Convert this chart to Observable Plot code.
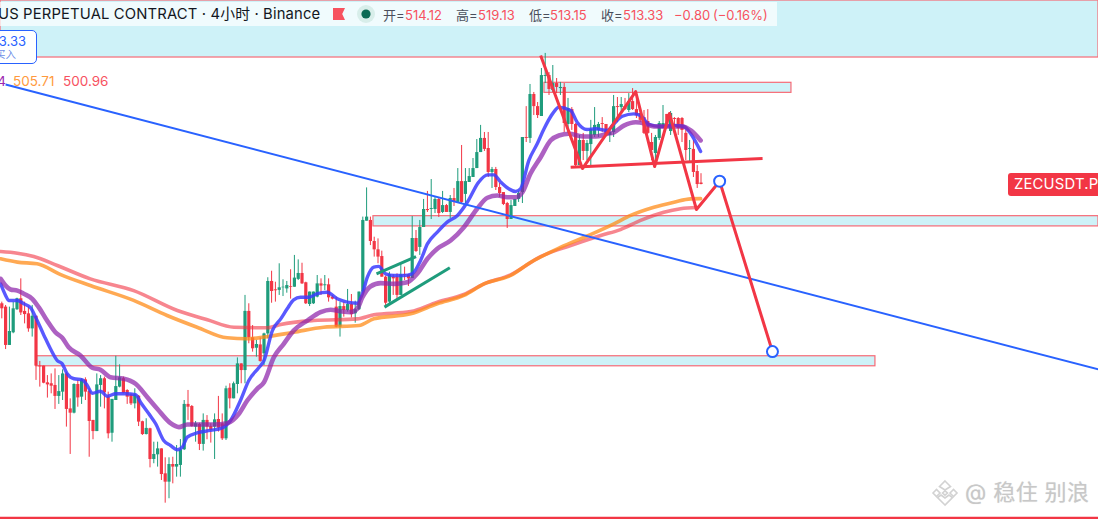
<!DOCTYPE html>
<html lang="zh">
<head>
<meta charset="utf-8">
<title>ZECUSDT.P 4小时</title>
<script src="https://cdn.jsdelivr.net/npm/d3@7"></script>
<script src="https://cdn.jsdelivr.net/npm/@observablehq/plot@0.6"></script>
<style>
html,body{margin:0;padding:0;background:#fff;overflow:hidden;width:1098px;height:519px}
#wrap{position:relative;width:1098px;height:519px;overflow:hidden;font-family:Inter,"Noto Sans CJK SC",sans-serif}
#wrap svg.plot{display:block;position:absolute;left:0;top:0}
.ov{position:absolute;white-space:nowrap}
#bar{left:0;top:2px;width:777px;height:24px;background:rgba(255,255,255,.7)}
#sym{left:-2px;top:3px;font-size:14.8px;line-height:22px;color:#131722;letter-spacing:.15px}
.o{font-size:13px;line-height:20px;top:5px}
.lab{color:#4a4f5c}.red{color:#f7525f}
#order{left:-12px;top:30px;width:49px;height:34px;background:#fff;border:1px solid #2962ff;border-radius:5px;box-sizing:border-box}
#o1{right:10px;top:2px;font-size:13px;line-height:16px;color:#2962ff}
#o2{right:20px;top:18px;font-size:10.5px;line-height:12px;color:#6f8fe8}
.ma{font-size:13.5px;line-height:16px;top:73px}
#tag{left:1008px;top:173px;width:110px;height:23px;background:#f23645;border-radius:3px;color:#fff;font-size:14.8px;line-height:23px;padding-left:6px;box-sizing:border-box;letter-spacing:.2px}
#wm{left:965px;top:477px;font-size:22px;line-height:30px;color:#c8c8c8;text-shadow:0 0 1px #ddd;letter-spacing:.4px}
</style>
</head>
<body>
<div id="wrap"></div>
<script>
const opens = [
449.2,447.4,426.8,433.6,446.0,451.9,445.1,443.8,435.7,442.5,
415.7,415.7,406.7,406.2,405.3,399.4,401.7,411.5,392.7,390.4,
405.8,399.0,408.3,402.2,386.5,380.5,405.3,408.9,399.0,379.6,
397.2,404.4,408.9,402.6,400.3,395.4,399.5,385.8,378.9,382.0,
365.5,368.0,371.2,357.8,353.3,362.8,361.4,362.3,370.7,395.1,
394.0,382.9,384.3,373.6,386.5,383.2,382.9,387.0,384.7,376.6,
403.8,398.1,405.8,416.9,413.3,445.1,430.9,425.3,427.1,422.3,
433.0,461.2,456.7,456.4,457.8,457.2,458.5,458.1,462.3,465.5,
460.5,448.8,449.2,452.8,459.9,458.9,459.4,452.8,447.4,436.6,
447.7,445.6,448.8,443.8,446.0,455.5,493.6,494.0,482.7,478.2,
474.6,463.5,450.1,463.5,463.5,453.7,464.8,464.8,462.8,484.3,
479.5,490.2,499.9,499.9,499.9,505.3,498.3,502.0,498.3,505.8,
503.7,514.9,508.0,514.4,517.1,521.9,530.5,538.1,532.7,519.8,
521.4,511.7,509.0,503.1,494.5,501.5,505.3,509.0,538.6,538.1,
561.7,555.2,549.9,571.4,571.9,563.9,567.6,564.9,565.5,545.6,
553.6,545.6,523.5,537.0,531.1,534.8,539.7,542.4,546.1,545.6,
539.7,541.3,555.2,554.7,555.2,553.1,557.9,553.6,551.5,549.3,
547.2,535.9,530.0,538.1,543.4,551.0,541.8,548.8,548.8,548.8,
540.8,532.2,532.2,520.3,514.12];
const highs = [
450.1,448.3,447.4,450.1,452.2,462.6,450.1,447.4,448.3,442.5,
418.2,415.7,410.6,411.5,414.2,410.6,413.7,412.4,398.1,406.2,
408.0,408.9,409.4,403.5,386.5,411.5,410.6,409.8,401.7,397.8,
421.0,416.4,409.8,403.0,400.8,403.5,399.9,386.1,387.4,382.3,
374.8,374.8,371.2,366.4,366.4,366.7,373.0,376.2,397.2,402.6,
394.5,385.9,385.0,390.0,389.1,384.7,390.0,399.4,390.0,404.9,
406.2,407.1,420.1,416.9,453.7,449.2,437.5,429.5,430.9,433.4,
463.2,466.7,460.8,470.7,462.1,461.2,467.5,475.2,472.8,471.0,
460.8,455.5,455.5,464.4,462.6,464.4,462.6,453.7,452.8,450.1,
450.1,456.9,454.2,450.6,455.5,495.8,511.5,495.8,485.0,484.1,
477.5,464.1,466.2,464.8,465.3,470.7,468.9,465.0,496.1,488.6,
494.0,505.3,509.6,516.0,506.3,506.3,509.6,502.6,507.4,511.2,
521.9,534.3,521.9,521.9,527.3,537.5,545.1,541.3,541.3,522.5,
522.5,513.9,509.0,503.7,504.7,505.3,509.6,538.6,555.2,567.1,
562.8,557.4,575.7,583.8,573.5,577.3,570.3,568.2,567.6,559.6,
554.7,546.1,539.7,540.8,537.0,547.8,554.7,546.7,549.3,545.6,
542.4,561.2,560.1,560.1,559.6,562.2,564.9,562.8,551.5,553.1,
553.6,540.8,539.7,547.2,555.8,551.0,552.6,549.3,549.3,549.3,
542.4,537.0,537.0,523.5,519.13];
const lows = [
441.1,424.6,426.8,433.1,445.6,442.9,438.4,433.9,431.3,408.0,
404.4,406.2,398.5,400.8,392.4,395.1,397.2,382.9,368.2,390.0,
393.6,395.1,397.2,366.7,376.1,380.5,393.6,392.7,376.6,374.8,
397.2,404.0,400.8,395.1,394.5,392.7,383.2,378.4,378.7,361.0,
363.2,361.4,354.2,342.0,344.4,352.4,356.0,356.0,370.3,386.5,
382.9,374.8,370.3,370.0,376.1,374.3,365.5,380.2,375.7,375.7,
392.7,398.1,400.8,406.2,406.2,427.7,423.2,420.5,417.8,416.0,
430.4,449.5,450.1,453.7,453.1,454.9,451.7,458.1,461.7,459.6,
448.8,447.7,448.8,452.4,453.7,456.3,450.1,451.3,436.3,431.3,
442.0,444.7,441.6,438.8,445.6,454.6,493.6,480.5,474.3,470.7,
463.5,447.0,448.3,453.7,451.0,453.7,461.7,458.5,462.8,476.8,
475.2,490.2,498.3,494.5,497.7,495.6,497.7,498.3,495.0,501.5,
503.7,503.1,503.1,514.4,517.1,521.9,530.5,531.1,517.1,511.2,
510.1,506.3,502.0,489.7,494.5,501.5,503.7,503.1,535.9,535.4,
550.4,548.8,549.9,567.6,561.2,562.8,562.2,561.2,541.3,540.8,
542.4,522.5,523.5,526.2,526.2,523.5,538.6,538.6,541.3,539.1,
535.9,538.6,546.7,551.5,553.1,552.0,553.1,548.8,546.7,540.2,
540.2,526.2,523.5,537.0,543.4,544.0,539.7,543.4,539.7,535.9,
526.2,525.2,517.1,511.2,513.15];
const closes = [
446.5,426.8,434.3,446.5,451.9,444.3,443.4,435.7,442.5,415.7,
415.3,406.5,405.6,404.9,399.4,402.0,411.5,392.4,390.4,405.8,
398.6,408.3,401.7,385.9,380.5,405.6,408.9,401.3,379.3,397.8,
404.7,409.4,401.1,399.0,395.4,400.3,385.6,378.9,382.2,365.5,
368.2,371.2,357.4,353.3,362.8,361.4,362.8,370.7,395.1,393.6,
383.2,384.7,373.6,386.5,382.9,381.1,386.8,382.3,376.6,403.5,
398.1,406.2,416.9,413.3,445.1,430.9,425.0,427.3,418.2,433.0,
461.2,455.8,456.2,457.8,458.1,459.0,458.1,463.0,465.5,459.9,
449.2,455.5,455.5,459.9,458.7,459.4,452.4,451.7,436.6,447.7,
445.6,448.8,443.4,446.0,455.5,494.0,495.8,482.7,478.2,474.3,
463.5,449.5,464.8,462.6,453.7,464.8,464.4,462.6,484.3,477.3,
490.2,499.9,499.3,500.4,505.3,497.7,502.0,498.3,505.8,503.7,
514.9,503.7,514.9,517.6,521.9,530.5,538.1,532.2,519.8,521.4,
511.7,508.5,502.6,494.5,502.0,505.3,508.5,538.6,538.1,561.7,
555.2,550.4,571.9,571.9,564.4,567.6,565.5,565.5,546.1,554.2,
545.6,523.5,537.0,531.1,535.4,542.9,545.1,545.6,545.6,539.7,
541.3,555.2,554.7,556.3,553.6,557.9,553.6,550.4,547.8,540.8,
540.8,531.6,538.6,546.1,546.1,545.1,551.5,548.3,543.4,542.4,
531.6,532.7,519.8,513.3,513.33];

const blueBars = [0.7,2,2.8,5.1,6.8,8.6,9.9,12.1,13.8,15.6,16.9,18.2,20,22.2,23.5,24.8,27,28.7,31,33.6,36.2,37.5,39.7,41.5,43.6,45.4,47.2,48.5,49.8,52.4,55.9,59,61.2,63.8,66,68.6,70,72.2,74.4,76.1,77.8,79.6,81.8,84,86.6,89.3,91.9,94.5,95.9,97.2,98.9,100.2,102,104.2,106.8,109,111.2,113,115.6,118.2,120.9,123.5,126.5,128.8,130.5,132.3,134.4,136.2,137.5,139.7,141.9,143.7,145.9,147.6,150.7,152.4,155,157.3,160.3,162.1,164.3,167.3,169.1,171.3,174.4,177.9,180.5,182.3,184.9];
const blueMa = [459.9,453.7,451,451,449.2,447,442,432.2,425,418.7,416.9,411.6,408.9,408.3,405.3,401.1,402.2,399.5,400.8,400.8,400.4,396.3,390.1,384.7,375.7,373,370.7,372.1,377.5,379.8,381.1,382.5,386.5,397.2,408,414.8,418.7,434.8,441.1,446.5,451.3,452.7,452.7,454.6,455.4,451.9,450.1,449.5,454.6,463.5,468.9,469.3,465.3,464.4,464.4,465.3,472.5,481.4,487.7,493.1,496.7,503.8,514.6,518.5,518.5,514.6,511,509.6,511,526.3,535.2,543.3,551.3,554.9,553.1,546.8,542.9,543.3,542.4,546,550,551.3,550.4,545.6,544.5,545.1,544.5,540.6,531.1];
const purpleBars = [0.7,2,3.3,5.1,6.8,9,10.7,12.9,15.1,16.9,18.6,21.7,24.8,27,29.6,33.1,36.2,39.3,41.9,45.4,47.6,49.8,53.3,56.8,60.3,63.4,65.6,68.2,70,72.6,75.2,77.8,81.4,84.9,87.5,90.1,92.8,94.5,95.9,98,100.7,104.2,107.7,110.3,113,115.6,119.1,122.6,126.1,128.8,131.4,134,136.2,138,140.1,142.8,145.4,147.6,150.2,154.2,157.3,160.3,162.1,164.7,167.8,170,172.6,177,180.1,182.3,184.9];
const purpleMa = [462.6,459,456.9,456.3,454.6,451.9,447.4,440.2,433.9,430.9,425.8,421.4,414.8,413.7,409.7,408.9,406.2,399,392.8,385,382.9,384.3,384.3,384.3,385,390.1,397.2,403.5,407,420.5,427.7,434.8,440.2,444.7,446,445.2,444.7,446.5,452.7,458.5,460.3,459.9,460.8,465.3,473.4,478.8,483.2,490.4,500.3,506.2,507.4,506.5,506.5,509.2,519.1,528,537,539.7,540.6,539.1,539.1,540.6,541.4,545,546.8,546.3,544.5,544.5,544.5,542.4,537.04];
const orangeBars = [0.7,5.1,10.3,16.5,24.3,35.7,44.5,52.4,60.3,65.6,70,77.8,85.7,95,98.9,108.6,115.6,122.6,127.9,134.9,140.1,148,155.9,162.1,166.5,172.6,177.9,182.3,184.9];
const orangeMa = [473.4,471.6,470.7,464.9,459,451,442.9,436.6,430.9,430.4,431.3,433.9,436.6,437.5,441.1,443.8,449.2,453.7,459.9,464.4,471.4,479.5,486.4,492.2,496.7,501.1,503.8,505.6,505.71];
const pinkBars = [0.7,5.1,9.4,15.6,24.3,35.7,47.2,55.1,62.1,70.8,74.4,83.1,94.5,98.9,108.6,115.6,122.6,127.9,134.9,142.8,150.7,158.6,163.8,169.1,175.2,179.6,184];
const pinkMa = [477.3,476.4,474.6,469.8,462.6,456.3,445.6,440.6,436.6,436.3,438.1,440.2,441.1,443.3,445,450.1,454.2,459.9,464.8,474.6,480.5,485.9,489.1,494,498.4,500.3,500.96];

// zones: first bar, last bar, upper price, lower price
const zoneStart = [0.658,143.8,98.8,10.1];
const zoneEnd = [289.6,208.8,289.6,230.9];
const zoneTop = [612.25,568.0,496.3,421.0];
const zoneBottom = [581.6,562.6,490.8,415.6];

const trendBars = [2,289.6];
const trendPrices = [567.1,413.9];
const pathBars = [142.8,153.8,167.8,172.8,176.7,183.8,189.9,203.8];
const pathPrices = [582.7,521.9,563.3,523.0,551.5,499.9,515.1,423.5];
const neckBars = [150.7,201.2];
const neckPrices = [522.6,527.3];
const flagUpperBars = [99.6,110.0];
const flagUpperPrices = [465.3,474.6];
const flagLowerBars = [101.7,118.9];
const flagLowerPrices = [447.4,468.6];
const lastPriceLine = 334.0;

const xDomain = [0.658,289.6];
const yDomain = [612.25,333.23];
const GREEN = "#1f9c7c", RED = "#f23645";

const candles = opens.map((o,i)=>({bar:i+1,open:o,high:highs[i],low:lows[i],close:closes[i]}));
const ups = candles.filter(d=>d.close>=d.open);
const downs = candles.filter(d=>d.close<d.open);
const pts = (xs,ys)=>xs.map((x,i)=>({x,y:ys[i]}));
const zones = zoneStart.map((s,i)=>({x1:s,x2:zoneEnd[i],y1:zoneTop[i],y2:zoneBottom[i]}));
const maLine = (xs,ys,stroke,w,op)=>Plot.line(pts(xs,ys),{x:"x",y:"y",stroke,strokeWidth:w,strokeOpacity:op,curve:"monotone-x"});
const seg = (xs,ys,stroke,w)=>Plot.line(pts(xs,ys),{x:"x",y:"y",stroke,strokeWidth:w,strokeLinecap:"butt"});

const chart = Plot.plot({
  width:1098,height:519,margin:0,
  x:{axis:null,domain:xDomain,range:[0,1098]},
  y:{axis:null,domain:yDomain,range:[0,519]},
  style:{background:"transparent"},
  marks:[
    Plot.rect(zones,{x1:"x1",x2:"x2",y1:"y1",y2:"y2",fill:"#cef2f8",stroke:"#f76a76",strokeWidth:1.2}),
    Plot.ruleX(ups,{x:"bar",y1:"low",y2:"high",stroke:GREEN,strokeWidth:1}),
    Plot.ruleX(downs,{x:"bar",y1:"low",y2:"high",stroke:RED,strokeWidth:1}),
    Plot.ruleX(ups,{x:"bar",y1:"open",y2:"close",stroke:GREEN,strokeWidth:3.2}),
    Plot.ruleX(downs,{x:"bar",y1:"open",y2:"close",stroke:RED,strokeWidth:3.2}),
    maLine(pinkBars,pinkMa,"#f23645",3.6,.6),
    maLine(orangeBars,orangeMa,"#ff8c1a",3.6,.75),
    maLine(blueBars,blueMa,"#3c3cff",3.4,.85),
    maLine(purpleBars,purpleMa,"#8e24aa",4.6,.72),
    seg(trendBars,trendPrices,"#2962ff",2),
    seg(flagUpperBars,flagUpperPrices,GREEN,3),
    seg(flagLowerBars,flagLowerPrices,GREEN,3),
    seg(neckBars,neckPrices,RED,3),
    seg(pathBars,pathPrices,RED,3),
    Plot.dot(pts(pathBars.slice(-2),pathPrices.slice(-2)),{x:"x",y:"y",r:5.5,fill:"#fff",stroke:"#2962ff",strokeWidth:2}),
    Plot.ruleY([lastPriceLine],{stroke:RED,strokeWidth:2.6})
  ]
});
const wrap = document.getElementById("wrap");
wrap.appendChild(chart);

function add(id,cls,left,text,extra){
  const e=document.createElement("div");
  e.className="ov "+cls; if(id)e.id=id;
  if(left!==null)e.style.left=left+"px";
  if(text!==null)e.textContent=text;
  if(extra)Object.assign(e.style,extra);
  wrap.appendChild(e);return e;
}
add("bar","",null,null);
add("sym","",null,"US PERPETUAL CONTRACT · 4小时 · Binance");
const ohlcLabels = [["开=",383],["高=",456],["低=",529],["收=",601]];
const ohlcValues = [["514.12",405],["519.13",478],["513.15",550],["513.33",623],["−0.80",674],["(−0.16%)",713]];
ohlcLabels.forEach(([t,x])=>add(null,"o lab",x,t));
ohlcValues.forEach(([t,x])=>add(null,"o red",x,t));
const icons=add(null,"",0,null,{left:"330px",top:"2px"});
icons.innerHTML='<svg width="50" height="24" style="display:block"><path d="M3 6 H15 L12.2 12 L15 18 H3 Z" fill="#f7525f"/><circle cx="36" cy="12" r="9" fill="#d8eeea"/><circle cx="36" cy="12" r="4.6" fill="#0b6b55"/></svg>';
const order=add("order","",null,null);
const o1=add("o1","",null,"513.33");order.appendChild(o1);
const o2=add("o2","",null,"买入");order.appendChild(o2);
add(null,"ma",null,"537.04",{right:"1092px",color:"#9c27b0"});
add(null,"ma",13,"505.71",{color:"#ff9a3d"});
add(null,"ma",63,"500.96",{color:"#f7525f"});
add("tag","",null,"ZECUSDT.P");
const logo=add(null,"",null,null,{left:"930px",top:"478px"});
logo.innerHTML='<svg width="30" height="30" viewBox="0 0 30 30" style="display:block" fill="none" stroke="#d2d2d2" stroke-width="1.6"><path d="M15 3 L20.5 8.5 L15 12 L9.5 8.5 Z"/><path d="M3 15 L6.5 11.5 L10 15 L6.5 18.5 Z"/><path d="M20 15 L23.5 11.5 L27 15 L23.5 18.5 Z"/><path d="M15 27 L7.5 19.5 L11 17 L15 20 L19 17 L22.5 19.5 Z"/><path d="M12.5 15 L15 12.8 L17.5 15 L15 17.2 Z"/></svg>';
add("wm","",null,"@ 稳住 别浪");
</script>
</body>
</html>
